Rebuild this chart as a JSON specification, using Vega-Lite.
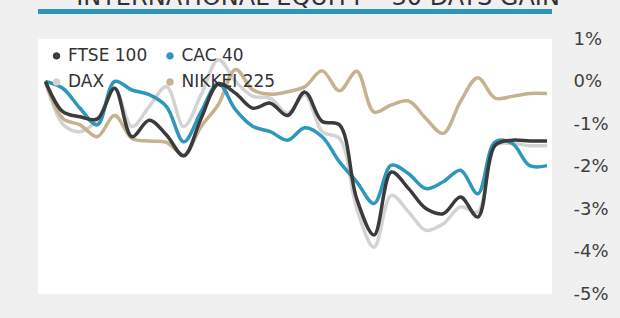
{
  "$schema": "https://vega.github.io/schema/vega-lite/v6.json",
  "width": 514,
  "height": 255,
  "autosize": {"type": "none"},
  "padding": {"left": 38, "top": 39, "right": 68, "bottom": 24},
  "background": "#f0f0f0",
  "config": {"view": {"fill": "white", "stroke": null}, "font": "DejaVu Sans"},
  "title": {"text": "INTERNATIONAL EQUITY – 30 DAYS GAIN", "fontSize": 24, "letterSpacing": 2, "color": "#333333", "fontWeight": "normal", "anchor": "middle", "dx": 23, "offset": 0, "dy": 1},
  "layer": [
    {
      "data": {"values": [{"a": 1}]},
      "mark": {"type": "rule", "color": "#2e96b9", "strokeWidth": 5, "clip": false},
      "encoding": {
        "y": {"datum": 1.65, "type": "quantitative",
          "axis": {"orient": "right", "values": [1, 0, -1, -2, -3, -4, -5], "labelExpr": "datum.value + '%'", "ticks": false, "domain": false, "grid": false, "labelPadding": 21, "labelAlign": "left", "labelFontSize": 18, "labelColor": "#404040", "title": null, "labelOverlap": false, "labelBound": false, "labelFlush": false}}
      }
    },
    {
      "data": {"values": [
        {"d":0,"s":"DAX","v":0},{"d":1,"s":"DAX","v":-1.0},{"d":2,"s":"DAX","v":-1.18},{"d":3,"s":"DAX","v":-0.9},{"d":4,"s":"DAX","v":-0.16},{"d":5,"s":"DAX","v":-1.06},{"d":6,"s":"DAX","v":-0.59},{"d":7,"s":"DAX","v":-0.12},{"d":8,"s":"DAX","v":-1.06},{"d":9,"s":"DAX","v":-0.31},
        {"d":10,"s":"DAX","v":0.51},{"d":11,"s":"DAX","v":0.0},{"d":12,"s":"DAX","v":-0.35},{"d":13,"s":"DAX","v":-0.39},{"d":14,"s":"DAX","v":-0.75},{"d":15,"s":"DAX","v":-0.31},{"d":16,"s":"DAX","v":-1.18},{"d":17,"s":"DAX","v":-1.34},{"d":18,"s":"DAX","v":-2.99},{"d":19,"s":"DAX","v":-3.9},
        {"d":20,"s":"DAX","v":-2.68},{"d":21,"s":"DAX","v":-3.07},{"d":22,"s":"DAX","v":-3.5},{"d":23,"s":"DAX","v":-3.35},{"d":24,"s":"DAX","v":-2.95},{"d":25,"s":"DAX","v":-3.07},{"d":26,"s":"DAX","v":-1.5},{"d":27,"s":"DAX","v":-1.46},{"d":28,"s":"DAX","v":-1.51},{"d":29,"s":"DAX","v":-1.51},
        {"d":0,"s":"NIKKEI 225","v":0},{"d":1,"s":"NIKKEI 225","v":-0.87},{"d":2,"s":"NIKKEI 225","v":-1.02},{"d":3,"s":"NIKKEI 225","v":-1.3},{"d":4,"s":"NIKKEI 225","v":-0.8},{"d":5,"s":"NIKKEI 225","v":-1.34},{"d":6,"s":"NIKKEI 225","v":-1.4},{"d":7,"s":"NIKKEI 225","v":-1.43},{"d":8,"s":"NIKKEI 225","v":-1.73},{"d":9,"s":"NIKKEI 225","v":-1.06},
        {"d":10,"s":"NIKKEI 225","v":-0.54},{"d":11,"s":"NIKKEI 225","v":0.28},{"d":12,"s":"NIKKEI 225","v":-0.2},{"d":13,"s":"NIKKEI 225","v":-0.3},{"d":14,"s":"NIKKEI 225","v":-0.24},{"d":15,"s":"NIKKEI 225","v":-0.12},{"d":16,"s":"NIKKEI 225","v":0.25},{"d":17,"s":"NIKKEI 225","v":-0.22},{"d":18,"s":"NIKKEI 225","v":0.24},{"d":19,"s":"NIKKEI 225","v":-0.72},
        {"d":20,"s":"NIKKEI 225","v":-0.55},{"d":21,"s":"NIKKEI 225","v":-0.46},{"d":22,"s":"NIKKEI 225","v":-0.87},{"d":23,"s":"NIKKEI 225","v":-1.22},{"d":24,"s":"NIKKEI 225","v":-0.47},{"d":25,"s":"NIKKEI 225","v":0.09},{"d":26,"s":"NIKKEI 225","v":-0.39},{"d":27,"s":"NIKKEI 225","v":-0.35},{"d":28,"s":"NIKKEI 225","v":-0.28},{"d":29,"s":"NIKKEI 225","v":-0.28},
        {"d":0,"s":"CAC 40","v":0},{"d":1,"s":"CAC 40","v":-0.16},{"d":2,"s":"CAC 40","v":-0.63},{"d":3,"s":"CAC 40","v":-1.02},{"d":4,"s":"CAC 40","v":0.0},{"d":5,"s":"CAC 40","v":-0.2},{"d":6,"s":"CAC 40","v":-0.31},{"d":7,"s":"CAC 40","v":-0.59},{"d":8,"s":"CAC 40","v":-1.42},{"d":9,"s":"CAC 40","v":-0.71},
        {"d":10,"s":"CAC 40","v":-0.04},{"d":11,"s":"CAC 40","v":-0.67},{"d":12,"s":"CAC 40","v":-1.06},{"d":13,"s":"CAC 40","v":-1.18},{"d":14,"s":"CAC 40","v":-1.38},{"d":15,"s":"CAC 40","v":-1.09},{"d":16,"s":"CAC 40","v":-1.3},{"d":17,"s":"CAC 40","v":-1.89},{"d":18,"s":"CAC 40","v":-2.36},{"d":19,"s":"CAC 40","v":-2.87},
        {"d":20,"s":"CAC 40","v":-1.97},{"d":21,"s":"CAC 40","v":-2.17},{"d":22,"s":"CAC 40","v":-2.52},{"d":23,"s":"CAC 40","v":-2.36},{"d":24,"s":"CAC 40","v":-2.09},{"d":25,"s":"CAC 40","v":-2.64},{"d":26,"s":"CAC 40","v":-1.42},{"d":27,"s":"CAC 40","v":-1.46},{"d":28,"s":"CAC 40","v":-1.98},{"d":29,"s":"CAC 40","v":-1.98},
        {"d":0,"s":"FTSE 100","v":0},{"d":1,"s":"FTSE 100","v":-0.71},{"d":2,"s":"FTSE 100","v":-0.83},{"d":3,"s":"FTSE 100","v":-0.88},{"d":4,"s":"FTSE 100","v":-0.16},{"d":5,"s":"FTSE 100","v":-1.3},{"d":6,"s":"FTSE 100","v":-0.91},{"d":7,"s":"FTSE 100","v":-1.26},{"d":8,"s":"FTSE 100","v":-1.75},{"d":9,"s":"FTSE 100","v":-0.87},
        {"d":10,"s":"FTSE 100","v":-0.06},{"d":11,"s":"FTSE 100","v":-0.28},{"d":12,"s":"FTSE 100","v":-0.63},{"d":13,"s":"FTSE 100","v":-0.51},{"d":14,"s":"FTSE 100","v":-0.8},{"d":15,"s":"FTSE 100","v":-0.25},{"d":16,"s":"FTSE 100","v":-0.94},{"d":17,"s":"FTSE 100","v":-1.02},{"d":18,"s":"FTSE 100","v":-2.76},{"d":19,"s":"FTSE 100","v":-3.61},
        {"d":20,"s":"FTSE 100","v":-2.13},{"d":21,"s":"FTSE 100","v":-2.52},{"d":22,"s":"FTSE 100","v":-2.99},{"d":23,"s":"FTSE 100","v":-3.11},{"d":24,"s":"FTSE 100","v":-2.72},{"d":25,"s":"FTSE 100","v":-3.19},{"d":26,"s":"FTSE 100","v":-1.5},{"d":27,"s":"FTSE 100","v":-1.38},{"d":28,"s":"FTSE 100","v":-1.4},{"d":29,"s":"FTSE 100","v":-1.4}
      ]},
      "mark": {"type": "line", "interpolate": "catmull-rom", "strokeWidth": 3.5, "clip": false},
      "encoding": {
        "x": {"field": "d", "type": "quantitative", "scale": {"domain": [-0.43, 29.29], "nice": false, "zero": false}, "axis": null},
        "y": {"field": "v", "type": "quantitative", "scale": {"domain": [-5, 1], "nice": false, "zero": false},
          "axis": {"orient": "right", "values": [1, 0, -1, -2, -3, -4, -5], "labelExpr": "datum.value + '%'", "ticks": false, "domain": false, "grid": false, "labelPadding": 21, "labelAlign": "left", "labelFontSize": 18, "labelColor": "#404040", "title": null, "labelOverlap": false, "labelBound": false, "labelFlush": false}},
        "color": {"field": "s", "type": "nominal",
          "scale": {"domain": ["FTSE 100", "CAC 40", "DAX", "NIKKEI 225"], "range": ["#3b3b3b", "#2e97bb", "#d3d3d3", "#c5b390"]},
          "legend": {"orient": "none", "direction": "horizontal", "legendX": 10, "legendY": 8, "columns": 2, "title": null, "symbolType": "circle", "symbolSize": 12, "symbolStrokeWidth": 4, "labelFontSize": 17, "labelColor": "#333333", "labelOffset": 3, "columnPadding": 11.5, "rowPadding": 5.5, "padding": 0}}
      }
    }
  ]
}
